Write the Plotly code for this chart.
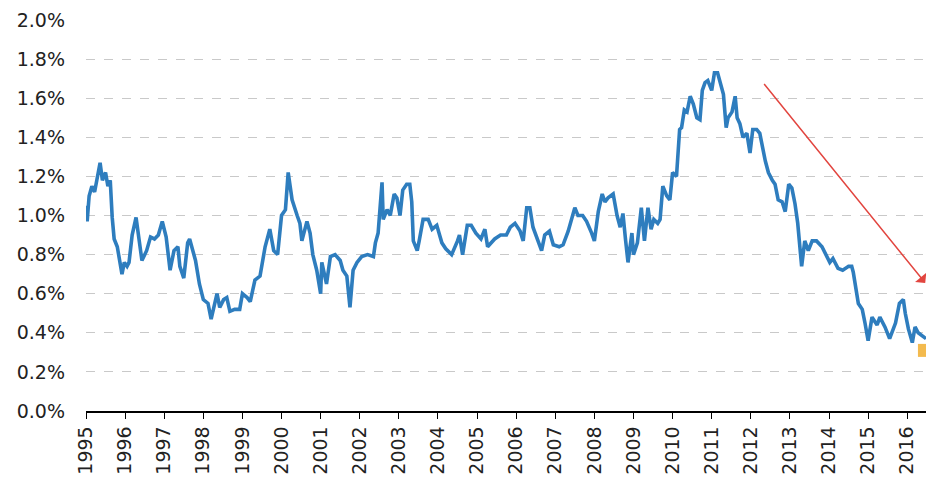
import plotly.graph_objects as go

# Decimal-year time points and values (%)
years = [
    1995.00, 1995.03, 1995.08, 1995.15, 1995.22, 1995.30, 1995.36, 1995.42, 1995.50, 1995.56,
    1995.62, 1995.67, 1995.72, 1995.80, 1995.86, 1995.92, 1995.98, 1996.05, 1996.10, 1996.18,
    1996.28, 1996.33, 1996.43, 1996.55, 1996.65, 1996.75, 1996.85, 1996.95, 1997.05, 1997.15,
    1997.25, 1997.35, 1997.40, 1997.50, 1997.60, 1997.65, 1997.80, 1997.90, 1998.00, 1998.12,
    1998.20, 1998.35, 1998.42, 1998.52, 1998.60, 1998.68, 1998.80, 1998.93, 1999.00, 1999.12,
    1999.20, 1999.32, 1999.45, 1999.58, 1999.70, 1999.80, 1999.90, 2000.00, 2000.10, 2000.17,
    2000.27, 2000.40, 2000.47, 2000.52, 2000.65, 2000.73, 2000.80, 2000.90, 2001.00, 2001.03,
    2001.15, 2001.25, 2001.37, 2001.50, 2001.57, 2001.67, 2001.75, 2001.83, 2001.93, 2002.05,
    2002.20, 2002.35, 2002.40, 2002.47, 2002.57, 2002.60, 2002.70, 2002.78, 2002.88, 2002.95,
    2003.03, 2003.10, 2003.20, 2003.28, 2003.33, 2003.37, 2003.47, 2003.52, 2003.62, 2003.75,
    2003.85, 2003.97, 2004.10, 2004.20, 2004.35, 2004.50, 2004.55, 2004.63, 2004.75, 2004.85,
    2004.97, 2005.10, 2005.20, 2005.27, 2005.45, 2005.60, 2005.75, 2005.85, 2005.97, 2006.10,
    2006.18, 2006.27, 2006.35, 2006.43, 2006.53, 2006.65, 2006.73, 2006.85, 2006.95, 2007.10,
    2007.20, 2007.33, 2007.50, 2007.58, 2007.70, 2007.80, 2007.93, 2008.00, 2008.10, 2008.20,
    2008.27, 2008.35, 2008.48, 2008.58, 2008.66, 2008.73, 2008.80, 2008.86, 2008.96, 2009.00,
    2009.10, 2009.20, 2009.28, 2009.37, 2009.45, 2009.52, 2009.62, 2009.68, 2009.75, 2009.85,
    2009.93, 2010.00, 2010.10, 2010.18, 2010.23, 2010.30, 2010.37, 2010.45, 2010.53, 2010.62,
    2010.70, 2010.76, 2010.83, 2010.90, 2011.00, 2011.07, 2011.15, 2011.20, 2011.30, 2011.37,
    2011.42, 2011.52, 2011.60, 2011.65, 2011.72, 2011.80, 2011.90, 2011.98, 2012.05, 2012.15,
    2012.23, 2012.37, 2012.45, 2012.55, 2012.62, 2012.70, 2012.80, 2012.88, 2012.97, 2013.05,
    2013.13, 2013.20, 2013.30, 2013.38, 2013.47, 2013.57, 2013.68, 2013.82, 2013.95, 2014.02,
    2014.10, 2014.23, 2014.35, 2014.50, 2014.58, 2014.62, 2014.75, 2014.85, 2014.92, 2015.00,
    2015.10, 2015.23, 2015.30, 2015.43, 2015.55, 2015.70, 2015.80, 2015.90, 2015.95, 2016.03,
    2016.13, 2016.20, 2016.28, 2016.40, 2016.48,
]
values = [
    1.05, 0.97, 1.10, 1.15, 1.12, 1.20, 1.27, 1.18, 1.22, 1.15,
    1.18, 0.99, 0.88, 0.84, 0.76, 0.70, 0.76, 0.74, 0.76, 0.90,
    0.99, 0.92, 0.77, 0.82, 0.89, 0.88, 0.90, 0.97, 0.89, 0.72,
    0.82, 0.84, 0.74, 0.68, 0.86, 0.88, 0.77, 0.65, 0.57, 0.55,
    0.47, 0.60, 0.53, 0.57, 0.58, 0.51, 0.52, 0.52, 0.60, 0.58,
    0.56, 0.67, 0.69, 0.84, 0.93, 0.82, 0.80, 1.00, 1.03, 1.22,
    1.08, 1.00, 0.96, 0.87, 0.97, 0.91, 0.80, 0.72, 0.60, 0.76,
    0.65, 0.79, 0.80, 0.77, 0.72, 0.69, 0.53, 0.72, 0.76, 0.79,
    0.80, 0.79, 0.86, 0.91, 1.17, 0.98, 1.03, 1.00, 1.11, 1.09,
    1.00, 1.13, 1.16, 1.16, 1.07, 0.87, 0.82, 0.87, 0.98, 0.98,
    0.93, 0.95, 0.86, 0.83, 0.80, 0.87, 0.90, 0.80, 0.95, 0.95,
    0.91, 0.88, 0.93, 0.84, 0.88, 0.90, 0.90, 0.94, 0.96, 0.92,
    0.87, 1.04, 1.04, 0.94, 0.89, 0.82, 0.90, 0.92, 0.85, 0.84,
    0.85, 0.92, 1.04, 1.00, 1.00, 0.97, 0.91, 0.87, 1.02, 1.11,
    1.07, 1.09, 1.11, 1.00, 0.94, 1.01, 0.87, 0.76, 0.91, 0.80,
    0.86, 1.04, 0.87, 1.04, 0.93, 0.98, 0.96, 0.98, 1.15, 1.10,
    1.08, 1.22, 1.20, 1.44, 1.45, 1.54, 1.53, 1.61, 1.57, 1.50,
    1.49, 1.64, 1.68, 1.69, 1.64, 1.73, 1.73, 1.69, 1.62, 1.45,
    1.50, 1.53, 1.61, 1.50, 1.47, 1.40, 1.42, 1.32, 1.44, 1.44,
    1.42, 1.28, 1.22, 1.18, 1.16, 1.08, 1.07, 1.02, 1.16, 1.14,
    1.06, 0.96, 0.74, 0.87, 0.82, 0.87, 0.87, 0.84, 0.79, 0.76,
    0.78, 0.73, 0.72, 0.74, 0.74, 0.71, 0.55, 0.52, 0.45, 0.36,
    0.48, 0.44, 0.48, 0.43, 0.37, 0.45, 0.55, 0.57, 0.50, 0.42,
    0.35, 0.43, 0.40, 0.38, 0.37,
]

# Latest highlighted point (orange marker)
latest_year = [2016.44]
latest_value = [0.31]

# Trend arrow endpoints (year, %)
arrow_start = (2012.31, 1.68)
arrow_end = (2016.46, 0.655)

tick_years = list(range(1995, 2017))
y_ticks = [0.0, 0.2, 0.4, 0.6, 0.8, 1.0, 1.2, 1.4, 1.6, 1.8, 2.0]

fig = go.Figure()
fig.add_trace(go.Scatter(
    x=years, y=values, mode="lines",
    line=dict(color="#2E7DBE", width=3.6),
    showlegend=False, hoverinfo="skip",
))
fig.add_trace(go.Scatter(
    x=latest_year, y=latest_value, mode="markers",
    marker=dict(symbol="square", size=13, color="#F3BA4E"),
    showlegend=False, hoverinfo="skip", cliponaxis=False,
))

fig.add_annotation(
    x=arrow_end[0], y=arrow_end[1], ax=arrow_start[0], ay=arrow_start[1],
    xref="x", yref="y", axref="x", ayref="y",
    showarrow=True, arrowhead=1, arrowsize=1.6, arrowwidth=1.5,
    arrowcolor="#E2453F", text="",
)

fig.update_layout(
    width=926, height=480,
    margin=dict(l=86, r=0, t=20, b=69),
    paper_bgcolor="white", plot_bgcolor="white",
    font=dict(family="DejaVu Sans, Verdana, sans-serif", color="#222222"),
    xaxis=dict(
        range=[1995, 2016.48],
        tickmode="array", tickvals=tick_years, ticktext=[str(y) for y in tick_years],
        tickangle=-90, tickfont=dict(size=19, color="#222222"),
        ticks="outside", ticklen=6, tickcolor="#000000", tickwidth=1.3,
        showline=True, linecolor="#000000", linewidth=1.5,
        showgrid=False, zeroline=False,
    ),
    yaxis=dict(
        range=[0, 2.0],
        tickmode="array", tickvals=y_ticks,
        ticktext=[f"{v:.1f}%" for v in y_ticks],
        tickfont=dict(size=19, color="#222222"),
        ticklabelstandoff=20,
        showgrid=True, gridcolor="#C9C9C9", griddash="dash", gridwidth=1,
        showline=False, zeroline=False, ticks="",
    ),
)

fig.write_html("out.html")
